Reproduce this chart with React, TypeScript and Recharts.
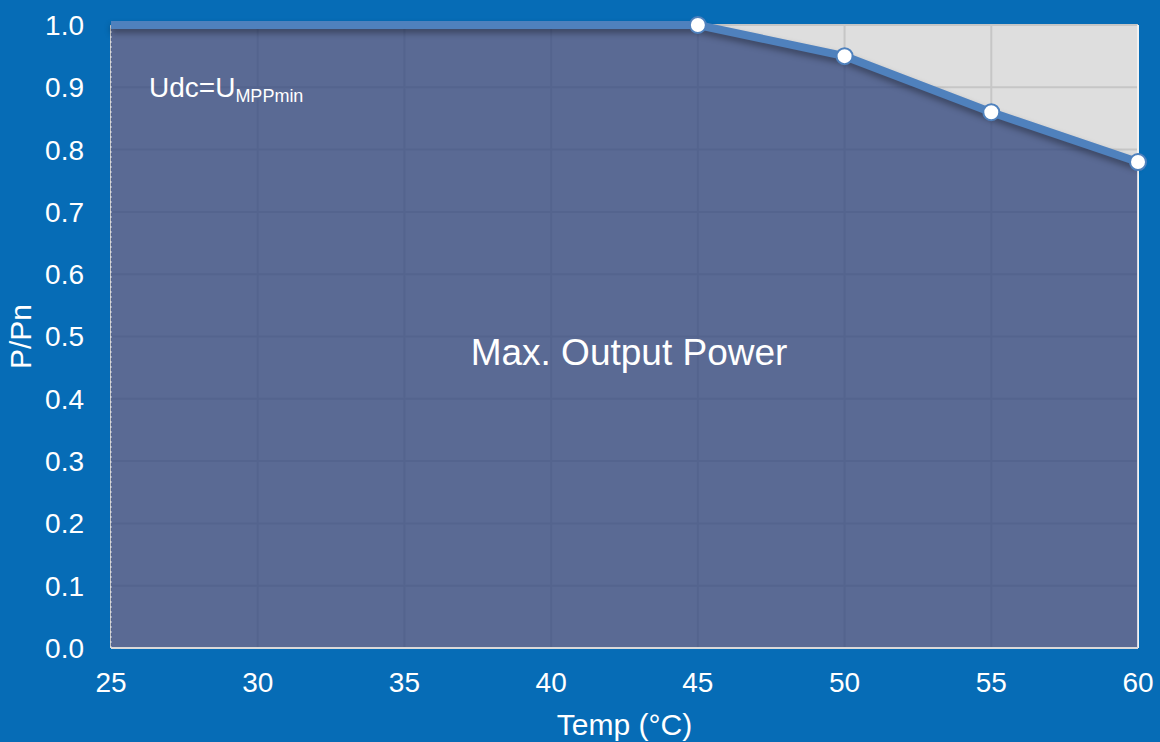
import { ComposedChart, Area, Line, XAxis, YAxis, CartesianGrid, ReferenceLine, Label } from 'recharts';

const temps = [25, 30, 35, 40, 45, 50, 55, 60];
const power = [1.0, 1.0, 1.0, 1.0, 1.0, 0.95, 0.86, 0.78];
const xTicks = [25, 30, 35, 40, 45, 50, 55, 60];
const yTicks = [0, 0.1, 0.2, 0.3, 0.4, 0.5, 0.6, 0.7, 0.8, 0.9, 1.0];
const markedFrom = 45;

const data = temps.map((t, i) => ({ temp: t, p: power[i] }));

const BG = '#066cb6';
const FONT = '"Liberation Sans", Arial, sans-serif';

function Dot(props: any) {
  const { cx, cy, payload } = props;
  if (payload.temp < markedFrom) return null;
  return <circle key={payload.temp} cx={cx} cy={cy} r={8} fill="#fff" stroke="#4f81bd" strokeWidth={2} />;
}

export default function App() {
  return (
    <div style={{ position: 'fixed', left: 0, top: 0, width: 1160, height: 742, background: BG, fontFamily: FONT }}>
      <ComposedChart width={1160} height={742} data={data} margin={{ top: 25, right: 22, bottom: 0, left: 0 }}>
        <CartesianGrid fill="#dedede" stroke="#c6c6c6" strokeWidth={2} verticalValues={xTicks} horizontalValues={yTicks} />
        <XAxis
          dataKey="temp"
          type="number"
          domain={[25, 60]}
          ticks={xTicks}
          height={94}
          tickLine={false}
          tickMargin={18}
          axisLine={{ stroke: '#d9d9d9', strokeWidth: 2 }}
          tick={{ fill: '#fff', fontSize: 28, fontFamily: FONT }}
        >
          <Label
            content={({ viewBox }: any) => (
              <text x={viewBox.x + viewBox.width / 2} y={735} textAnchor="middle" fill="#fff" fontSize={30} fontFamily={FONT}>
                Temp (°C)
              </text>
            )}
          />
        </XAxis>
        <YAxis
          type="number"
          domain={[0, 1]}
          ticks={yTicks}
          width={111}
          tickLine={false}
          axisLine={false}
          tickMargin={21}
          tickFormatter={(v: number) => v.toFixed(1)}
          tick={{ fill: '#fff', fontSize: 28, fontFamily: FONT }}
        >
          <Label
            content={({ viewBox }: any) => {
              const cy = viewBox.y + viewBox.height / 2;
              return (
                <text x={31} y={cy} transform={`rotate(-90 31 ${cy})`} textAnchor="middle" fill="#fff" fontSize={30} fontFamily={FONT}>
                  P/Pn
                </text>
              );
            }}
          />
        </YAxis>
        <Area
          dataKey="p"
          type="linear"
          fill="rgb(46,67,123)"
          fillOpacity={0.75}
          stroke="none"
          isAnimationActive={false}
        />
        <ReferenceLine x={25} stroke="#fff" strokeOpacity={0.7} strokeDasharray="2 3" />
        <ReferenceLine x={60} stroke="#fff" strokeWidth={1.5} />
        <Line
          dataKey="p"
          type="linear"
          stroke="#4f81bd"
          strokeWidth={8}
          dot={<Dot />}
          activeDot={false}
          style={{ filter: 'drop-shadow(0px 4px 3px rgba(0,0,0,0.35))' }}
          isAnimationActive={false}
        />
      </ComposedChart>
      <svg width={1160} height={742} style={{ position: 'absolute', left: 0, top: 0, pointerEvents: 'none' }}>
        <text x={149} y={97} fill="#fff" fontSize={28} fontFamily={FONT}>
          Udc=U<tspan fontSize={18} dy={5}>MPPmin</tspan>
        </text>
        <text x={629} y={365} textAnchor="middle" fill="#fff" fontSize={37} fontFamily={FONT}>
          Max. Output Power
        </text>
      </svg>
    </div>
  );
}
